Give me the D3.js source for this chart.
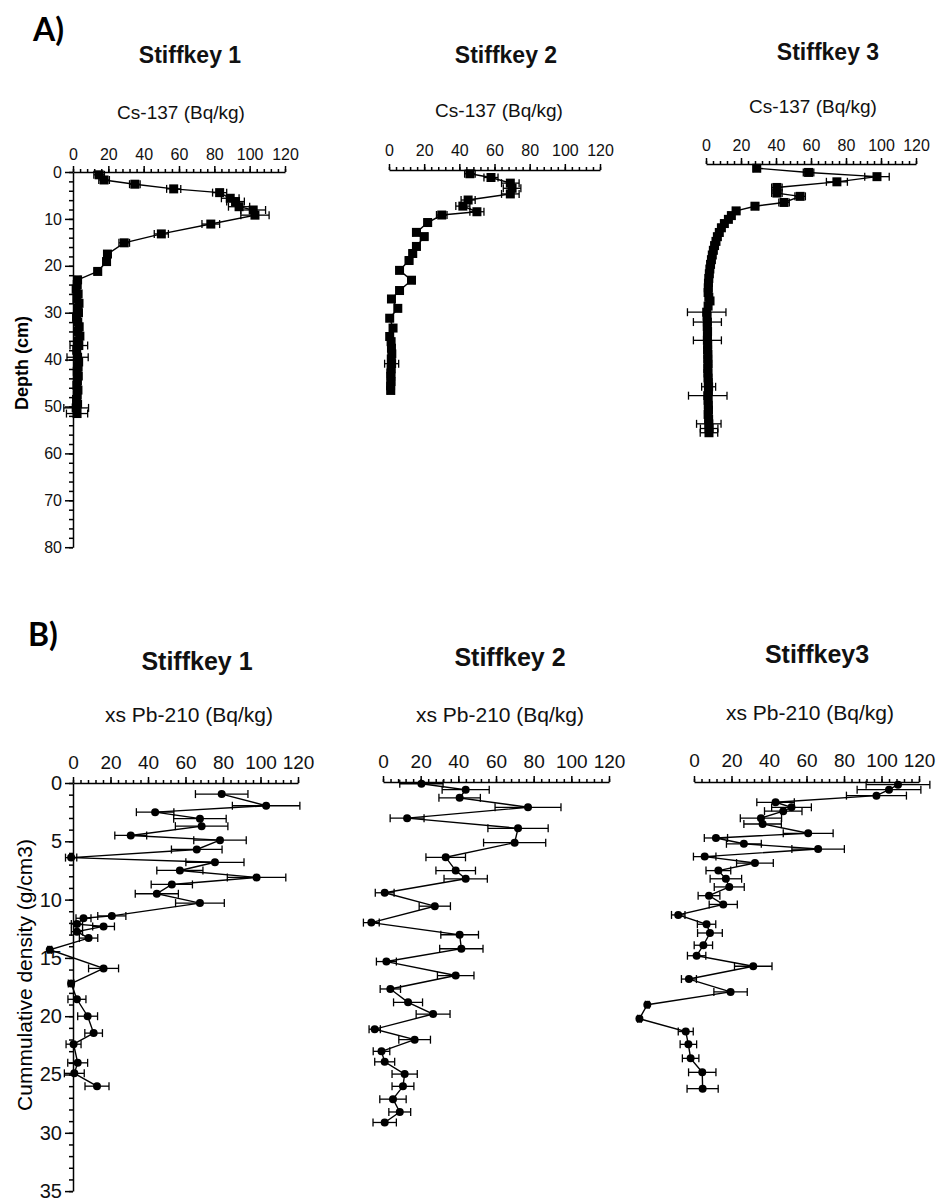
<!DOCTYPE html>
<html>
<head>
<meta charset="utf-8">
<script src="https://cdn.jsdelivr.net/npm/d3@7/dist/d3.min.js"></script>
<style>
body { margin: 0; background: #fff; }
svg { display: block; font-family: "Liberation Sans", Arial, sans-serif; }
</style>
</head>
<body>
<div id="chart"></div>
<script>
'use strict';

// ---------- data ----------
var xTicks = [0, 20, 40, 60, 80, 100, 120];
var depthTicks = [0, 10, 20, 30, 40, 50, 60, 70, 80];
var densityTicks = [0, 5, 10, 15, 20, 25, 30, 35];

var titlesA = ['Stiffkey 1', 'Stiffkey 2', 'Stiffkey 3'];
var titlesB = ['Stiffkey 1', 'Stiffkey 2', 'Stiffkey3'];

// A) Cs-137 (Bq/kg) vs depth (cm)
var cs1Depth = [0.6, 1.7, 2.6, 3.6, 4.4, 5.6, 6.3, 7.4, 8.1, 9.2, 11.1, 13.2, 15.1, 17.5, 19.1, 21.2, 23.0,
    24, 25, 26, 27, 28, 29, 30, 31, 32, 33, 34, 35, 36, 37, 38, 39.5, 40.5, 41.5, 42.5, 43.5, 44.5, 45.5, 46.5, 47.5, 48.5, 49.5, 50.3, 51.5];
var cs1Value = [14.8, 17.6, 35, 57, 83, 89, 92, 94, 102, 103, 78, 50, 29, 19.5, 19, 14, 2.6,
    2.4, 1.8, 2.9, 2.2, 3.4, 2.6, 3.1, 2.0, 2.7, 3.5, 2.8, 3.9, 3.0, 3.3, 2.1, 2.6, 3.2, 2.9, 2.4, 3.0, 2.5, 2.2, 2.8, 2.4, 2.0, 2.6, 1.8, 2.3];
var cs1Err = [3, 3, 3, 4, 4, 5, 5, 6, 7, 8, 5, 4, 3, 2, 2, 2, 1.5,
    1.5, 1.5, 1.5, 1.5, 1.5, 1.5, 1.5, 1.5, 1.5, 1.5, 1.5, 1.5, 1.5, 5, 1.5, 6, 1.5, 1.5, 1.5, 1.5, 1.5, 1.5, 1.5, 1.5, 1.5, 1.5, 7, 6];

var cs2Depth = [0.8, 1.6, 2.8, 3.9, 5.1, 6.4, 7.7, 8.9, 9.6, 11.2, 13.3, 14.2, 16.3, 17.8, 19.3, 21.4, 23.5, 25.7, 27.5, 29.5,
    31.6, 33.7, 35.5, 36.6, 38.0, 39.2, 40.3, 41.3, 42.4, 43.3, 44.0, 45.1, 46.0, 47.0];
var cs2Value = [46, 58, 69, 70, 69, 45, 42, 50, 30, 22, 15.6, 20, 15.6, 13.5, 11.4, 6, 12.8, 6, 1.4, 5,
    0.4, 2.3, 0.4, 1.2, 1.4, 1.6, 1.3, 1.5, 1.2, 1.1, 1.0, 1.2, 0.9, 1.0];
var cs2Err = [3, 4, 5, 5, 5, 4, 4, 4, 3, 2, 2, 2, 2, 2, 2, 1.5, 1.5, 1.5, 1.5, 1.5,
    1.5, 1.5, 1.5, 1.5, 1.5, 1.5, 1.5, 4, 1.5, 1.5, 1.5, 1.5, 1.5, 2];

var cs3Depth = [0.9, 1.8, 2.7, 3.8, 5.0, 6.2, 6.9, 8.2, 9.0, 10.0, 11.0, 11.8, 12.7, 13.6, 14.6, 15.5, 16.5, 17.4, 18.4, 19.4,
    20.4, 21.4, 22.4, 23.4, 24.4, 25.4, 26.4, 27.4, 28.4, 29.2, 30.3, 31.6, 32.5, 33.7, 34.7, 35.7, 36.7, 37.6, 38.6, 39.6,
    40.6, 41.6, 42.6, 43.6, 44.6, 45.6, 46.6, 47.5, 48.5, 49.4, 50.4, 51.4, 52.4, 53.4, 54.4, 55.4, 56.4, 57.3];
var cs3Value = [29, 58.6, 97.7, 74.8, 40.5, 40.5, 53.8, 44.6, 28, 17.2, 14.5, 12.8, 10.5, 8.8, 7.6, 6.5, 5.7, 4.9, 4.2, 3.6,
    3.1, 2.6, 2.2, 1.9, 1.6, 1.4, 1.3, 1.2, 1.6, 2.3, 1.2, 0.4, 0.6, 0.8, 0.7, 0.9, 0.8, 0.8, 1.0, 0.9,
    1.1, 1.0, 1.2, 1.0, 1.1, 1.2, 1.3, 1.5, 1.4, 1.0, 1.2, 1.3, 1.4, 1.2, 1.5, 1.6, 1.8, 1.7];
var cs3Err = [2, 3, 7, 6, 3, 3, 3, 3, 2, 2, 1.5, 1.5, 1.5, 1.5, 1.5, 1.5, 1.5, 1.5, 1.5, 1.5,
    1.5, 1.5, 1.5, 1.5, 1.5, 1.5, 1.5, 1.5, 1.5, 1.5, 1.5, 11, 1.5, 8, 1.5, 1.5, 1.5, 8, 1.5, 1.5,
    1.5, 1.5, 1.5, 1.5, 1.5, 1.5, 1.5, 4, 1.5, 11, 1.5, 1.5, 1.5, 1.5, 1.5, 7, 5, 5];

// B) xs Pb-210 (Bq/kg) vs cumulative density (g/cm3)
var pb1Depth = [0.95, 1.95, 2.5, 3.06, 3.7, 4.5, 4.9, 5.7, 6.4, 6.8, 7.5, 8.1, 8.7, 9.5, 10.3, 11.4, 11.6, 12.1, 12.3, 12.75, 13.3,
    14.3, 15.9, 17.2, 18.55, 20.0, 21.45, 22.4, 24.0, 24.9, 26.0];
var pb1Value = [79.3, 103, 43.8, 67.7, 68.6, 30.8, 78.4, 66, -1, 75.7, 57, 97.9, 52.7, 44.7, 67.7, 20.7, 5.6, 2.1, 16.3, 2.1, 8.3,
    -12.4, 16.3, -1, 2.1, 7.8, 11, 0.3, 2.5, 0.7, 12.8];
var pb1Err = [14, 18, 10, 14, 14, 8.5, 14, 13.5, 3, 15.5, 12.3, 15.6, 11, 11.5, 13, 7.5, 4, 3, 5.8, 3, 4.9,
    1, 8, 1.5, 4.8, 5.3, 4.7, 4, 5.3, 5.3, 6.4];

var pb2Depth = [0.15, 0.66, 1.36, 2.17, 3.1, 3.97, 5.2, 6.46, 7.6, 8.3, 9.5, 10.65, 12.06, 13.1, 14.3, 15.4, 16.6, 17.75, 18.9, 19.9,
    21.2, 22.1, 23.1, 24.0, 25.05, 26.1, 27.2, 28.3, 29.2];
var pb2Value = [20.4, 43.9, 40.7, 77, 12.8, 71.7, 69.9, 33.3, 38.6, 43.9, 0.9, 27.5, -6.2, 40.7, 41.6, 1.8, 38.6, 3.9, 13.3, 26.6,
    -4.4, 16.8, -0.8, 0.9, 11.5, 10.6, 5.3, 8.9, 0.9];
var pb2Err = [11.5, 12.5, 11, 17.5, 9, 16, 16.5, 10.5, 10.5, 11.5, 5, 8.3, 4.2, 10, 11.5, 5.3, 9.7, 5.4, 7.7, 9,
    3, 8.4, 4.4, 5.3, 6.7, 5.8, 7, 5.8, 6.2];

var pb3Depth = [0.23, 0.66, 1.17, 1.74, 2.17, 2.5, 3.1, 3.6, 4.4, 4.8, 5.3, 5.75, 6.4, 6.95, 7.6, 8.3, 9.0, 9.75, 10.5, 11.4,
    12.2, 12.95, 14.0, 14.9, 15.8, 16.9, 18.0, 19.1, 20.3, 21.4, 22.5, 23.7, 24.9, 26.3];
var pb3Value = [108.8, 104, 97.3, 43.5, 52, 47.6, 35.7, 36.6, 60.9, 11.7, 26.6, 66.2, 5.7, 32.5, 13, 17, 18.8, 8, 15.6, -8.4,
    6.7, 8.5, 5, 1.4, 31.6, -2.7, 19.5, -24.9, -29.1, -4.4, -3, -1.8, 4.4, 4.6];
var pb3Err = [17, 17, 16, 10, 10.6, 10, 11, 10, 13.3, 6.2, 9.3, 14, 6, 9.8, 6.6, 8.4, 8, 5.8, 7.5, 3.6,
    4.9, 6.6, 4.9, 4.9, 10, 4, 8.9, 1, 1, 4, 4.4, 4.4, 7.3, 8.3];

// ---------- layout ----------
var width = 937, height = 1201;

var svg = d3.select('#chart').append('svg')
    .attr('width', width)
    .attr('height', height);

var panels = [
    {title: titlesA[0], xLabel: 'Cs-137 (Bq/kg)', x0: 73, x1: 285, top: 172, unit: 4.69, yMax: 80,
        depth: cs1Depth, value: cs1Value, err: cs1Err, marker: 'square', yAxis: true, yTicks: depthTicks, yMinor: 2,
        tx: 190, ty: 63, lx: 181, ly: 119, pad: 6, small: true},
    {title: titlesA[1], xLabel: 'Cs-137 (Bq/kg)', x0: 389, x1: 600, top: 170, unit: 4.69, yMax: 80,
        depth: cs2Depth, value: cs2Value, err: cs2Err, marker: 'square', yAxis: false,
        tx: 506, ty: 63, lx: 499, ly: 117, pad: 8, small: true},
    {title: titlesA[2], xLabel: 'Cs-137 (Bq/kg)', x0: 706, x1: 916, top: 164, unit: 4.69, yMax: 80,
        depth: cs3Depth, value: cs3Value, err: cs3Err, marker: 'square', yAxis: false,
        tx: 828, ty: 60, lx: 813, ly: 113, pad: 7, small: true},
    {title: titlesB[0], xLabel: 'xs Pb-210 (Bq/kg)', x0: 73, x1: 298, top: 783, unit: 11.66, yMax: 35,
        depth: pb1Depth, value: pb1Value, err: pb1Err, marker: 'circle', yAxis: true, yTicks: densityTicks, yMinor: 1,
        tx: 197, ty: 670, lx: 189, ly: 722, pad: 8, small: false},
    {title: titlesB[1], xLabel: 'xs Pb-210 (Bq/kg)', x0: 383, x1: 609, top: 782, unit: 11.66, yMax: 35,
        depth: pb2Depth, value: pb2Value, err: pb2Err, marker: 'circle', yAxis: false,
        tx: 510, ty: 666, lx: 500, ly: 722, pad: 8, small: false},
    {title: titlesB[2], xLabel: 'xs Pb-210 (Bq/kg)', x0: 694, x1: 919, top: 782, unit: 11.66, yMax: 35,
        depth: pb3Depth, value: pb3Value, err: pb3Err, marker: 'circle', yAxis: false,
        tx: 817, ty: 663, lx: 810, ly: 720, pad: 9, small: false}
];

// panel letters and y-axis titles
svg.append('text').attr('x', 33).attr('y', 41)
    .attr('font-family', 'Lato, "Open Sans", sans-serif')
    .attr('font-weight', 'bold').attr('font-size', '32px').text('A)');
svg.append('text').attr('x', 28).attr('y', 646)
    .attr('font-family', 'Lato, "Open Sans", sans-serif')
    .attr('font-weight', 'bold').attr('font-size', '32px').text('B)');

svg.append('text')
    .attr('transform', 'translate(28,363) rotate(-90)')
    .attr('text-anchor', 'middle')
    .attr('font-weight', 'bold').attr('font-size', '18px')
    .text('Depth (cm)');
svg.append('text')
    .attr('transform', 'translate(32,975) rotate(-90)')
    .attr('text-anchor', 'middle')
    .attr('font-size', '21px')
    .text('Cummulative density (g/cm3)');

panels.forEach(function(p) {
    var g = svg.append('g');
    var x = d3.scaleLinear().domain([0, 120]).range([p.x0, p.x1]);
    var y = d3.scaleLinear().domain([0, p.yMax]).range([p.top, p.top + p.yMax * p.unit]);
    var tickFont = p.small ? '16px' : '19px';

    // titles
    g.append('text')
        .attr('x', p.tx).attr('y', p.ty)
        .attr('text-anchor', 'middle')
        .attr('font-weight', 'bold')
        .attr('font-size', p.small ? '23px' : '25px')
        .attr('fill', '#111')
        .text(p.title);
    g.append('text')
        .attr('x', p.lx).attr('y', p.ly)
        .attr('text-anchor', 'middle')
        .attr('font-size', p.small ? '19px' : '21px')
        .attr('fill', '#111')
        .text(p.xLabel);

    // top value axis with minor ticks
    var xMinor = g.append('g')
        .attr('transform', 'translate(0,' + p.top + ')')
        .call(d3.axisTop(x).tickValues(d3.range(0, 121, 4)).tickSize(3).tickFormat(''));
    xMinor.select('.domain').remove();

    var xAxis = g.append('g')
        .attr('transform', 'translate(0,' + p.top + ')')
        .call(d3.axisTop(x).tickValues(xTicks).tickSize(6).tickSizeOuter(0).tickPadding(p.pad));
    xAxis.selectAll('text').attr('font-size', tickFont).attr('font-family', null).attr('fill', '#111');

    // left depth axis (first column only)
    if (p.yAxis) {
        var yMinor = g.append('g')
            .attr('transform', 'translate(' + p.x0 + ',0)')
            .call(d3.axisLeft(y).tickValues(d3.range(0, p.yMax + 0.01, p.yMinor)).tickSize(4).tickFormat(''));
        yMinor.select('.domain').remove();

        var yAxis = g.append('g')
            .attr('transform', 'translate(' + p.x0 + ',0)')
            .call(d3.axisLeft(y).tickValues(p.yTicks).tickSize(8).tickSizeOuter(0).tickPadding(3));
        yAxis.selectAll('text').attr('font-size', p.small ? '16px' : '20px').attr('font-family', null).attr('fill', '#111');
    }
    g.selectAll('.domain, .tick line').attr('stroke', '#000').attr('stroke-width', 1.5);

    var pts = p.depth.map(function(d, i) {
        return {d: d, v: p.value[i], e: p.err[i]};
    });

    // error bars
    var eb = g.append('g').attr('stroke', '#000').attr('stroke-width', 1.3);
    eb.selectAll('line.bar').data(pts).enter().append('line')
        .attr('class', 'bar')
        .attr('x1', function(d) { return x(d.v - d.e); })
        .attr('x2', function(d) { return x(d.v + d.e); })
        .attr('y1', function(d) { return y(d.d); })
        .attr('y2', function(d) { return y(d.d); });
    [-1, 1].forEach(function(s) {
        eb.selectAll('line.cap' + (s + 1)).data(pts).enter().append('line')
            .attr('class', 'cap' + (s + 1))
            .attr('x1', function(d) { return x(d.v + s * d.e); })
            .attr('x2', function(d) { return x(d.v + s * d.e); })
            .attr('y1', function(d) { return y(d.d) - 4; })
            .attr('y2', function(d) { return y(d.d) + 4; });
    });

    // connecting line
    var line = d3.line()
        .x(function(d) { return x(d.v); })
        .y(function(d) { return y(d.d); });
    g.append('path')
        .datum(pts)
        .attr('d', line)
        .attr('fill', 'none')
        .attr('stroke', '#000')
        .attr('stroke-width', 1.4);

    // markers
    if (p.marker === 'square') {
        g.selectAll('rect.pt').data(pts).enter().append('rect')
            .attr('class', 'pt')
            .attr('x', function(d) { return x(d.v) - 4.5; })
            .attr('y', function(d) { return y(d.d) - 4.5; })
            .attr('width', 9).attr('height', 9)
            .attr('fill', '#000');
    } else {
        g.selectAll('circle.pt').data(pts).enter().append('circle')
            .attr('class', 'pt')
            .attr('cx', function(d) { return x(d.v); })
            .attr('cy', function(d) { return y(d.d); })
            .attr('r', 4)
            .attr('fill', '#000');
    }
});
</script>
</body>
</html>
